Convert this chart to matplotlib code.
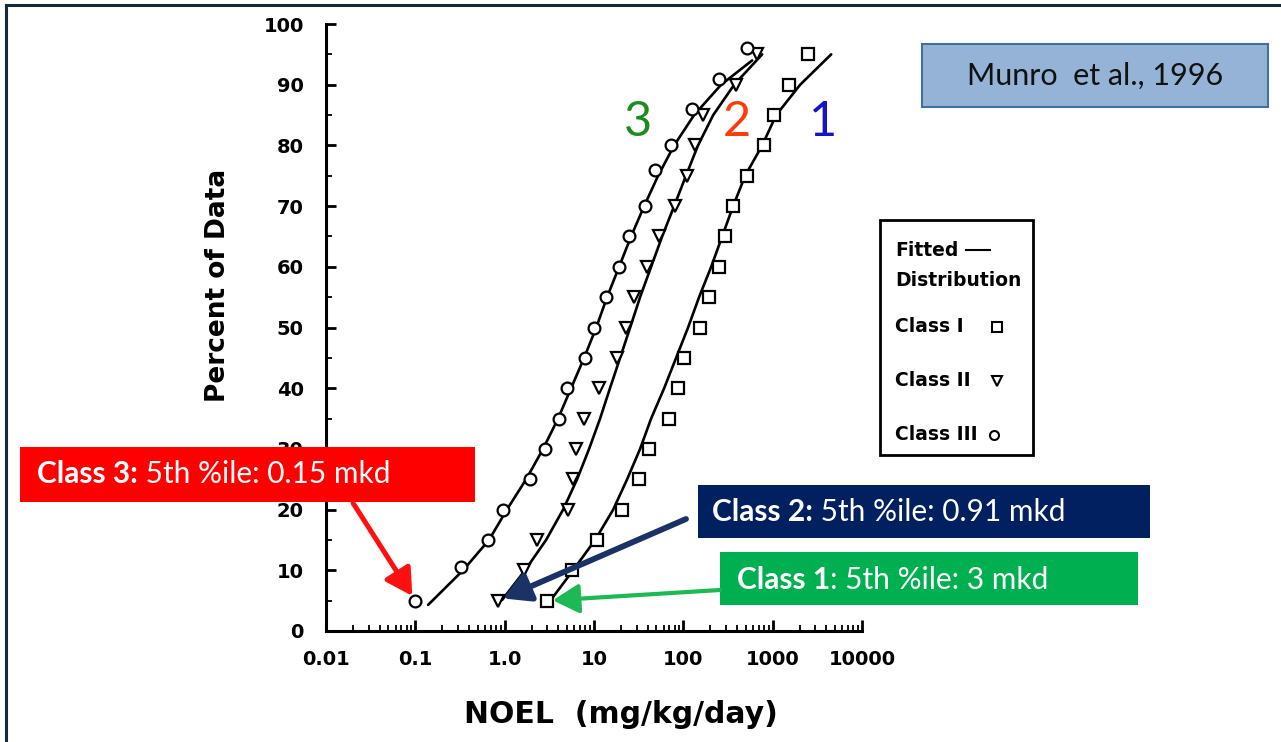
import numpy as np
import matplotlib
matplotlib.use("Agg")
import matplotlib.pyplot as plt
from matplotlib.patches import Rectangle
from matplotlib.ticker import FixedLocator, FixedFormatter, MultipleLocator, LogLocator, NullFormatter

plt.rcParams['font.family'] = ['DejaVu Sans']

# --- datos (NOEL mg/kg/dia, percentil) ---
class1_x = [3.0, 5.7, 10.7, 20.5, 32, 41, 69, 87, 102, 155, 192, 252, 296, 363, 518, 790, 1040, 1520, 2500]
class1_y = [5, 10, 15, 20, 25, 30, 35, 40, 45, 50, 55, 60, 65, 70, 75, 80, 85, 90, 95]
class2_x = [0.84, 1.65, 2.3, 5.1, 5.8, 6.3, 7.8, 11.4, 18, 23, 28, 39, 54, 81, 110, 135, 166, 390, 670]
class2_y = [5, 10, 15, 20, 25, 30, 35, 40, 45, 50, 55, 60, 65, 70, 75, 80, 85, 90, 95]
class3_x = [0.1, 0.325, 0.65, 0.96, 1.92, 2.8, 4.1, 5.0, 7.9, 10, 13.6, 19, 24.5, 37, 48, 73, 125, 252, 516]
class3_y = [5, 10.5, 15, 20, 25, 30, 35, 40, 45, 50, 55, 60, 65, 70, 76, 80, 86, 91, 96]

# curvas ajustadas (puntos leidos sobre las lineas)
fit1_x = [3.40, 5.83, 10.3, 16.4, 23.5, 32.8, 43.6, 61.0, 83.0, 113, 150, 205, 272, 361, 492, 763, 1095, 2032, 4520]
fit1_y = [5.4, 10, 15, 20, 25, 30, 35, 40, 45, 50, 55, 60, 65, 70, 75, 80, 85, 90, 95]
fit2_x = [0.935, 1.69, 2.91, 4.51, 6.47, 8.81, 11.7, 15.1, 19.6, 25.4, 32.8, 43.6, 57.9, 78.9, 107, 146, 216, 371, 763]
fit2_y = [5.1, 10, 15, 20, 25, 30, 35, 40, 45, 50, 55, 60, 65, 70, 75, 80, 85, 90, 95]
fit3_x = [0.139, 0.342, 0.668, 1.06, 1.74, 2.69, 3.96, 5.54, 7.75, 10.6, 14.0, 19.1, 26.0, 36.4, 52.2, 78.9, 132, 265, 589]
fit3_y = [4.3, 10, 15, 20, 25, 30, 35, 40, 45, 50, 55, 60, 65, 70, 75, 80, 85, 90, 94]

x_ticks = [0.01, 0.1, 1, 10, 100, 1000, 10000]
x_labels = ['0.01', '0.1', '1.0', '10', '100', '1000', '10000']

W, H = 1281, 742
fig = plt.figure(figsize=(W / 100, H / 100), dpi=100)
fig.patch.set_facecolor('white')

ax = fig.add_axes([326 / W, 1 - 631 / H, 536 / W, 607 / H])
ax.set_xscale('log')
ax.set_xlim(0.01, 10000)
ax.set_ylim(0, 100)

for fx, fy in [(fit1_x, fit1_y), (fit2_x, fit2_y), (fit3_x, fit3_y)]:
    ax.plot(fx, fy, color='black', lw=1.9, solid_capstyle='round', solid_joinstyle='round')

mk = dict(ls='none', mfc='white', mec='black', mew=1.6, ms=8.5, clip_on=False, zorder=3)
ax.plot(class1_x, class1_y, marker='s', **mk)
ax.plot(class2_x, class2_y, marker='v', **mk)
ax.plot(class3_x, class3_y, marker='o', **mk)

for s in ['top', 'right']:
    ax.spines[s].set_visible(False)
for s in ['left', 'bottom']:
    ax.spines[s].set_linewidth(2.2)

ax.xaxis.set_major_locator(FixedLocator(x_ticks))
ax.xaxis.set_major_formatter(FixedFormatter(x_labels))
ax.xaxis.set_minor_locator(LogLocator(base=10, subs=np.arange(2, 10)))
ax.xaxis.set_minor_formatter(NullFormatter())
ax.yaxis.set_major_locator(MultipleLocator(10))
ax.yaxis.set_minor_locator(MultipleLocator(5))

ax.tick_params(axis='x', which='major', direction='in', length=8, width=2, labelsize=14, pad=14)
ax.tick_params(axis='x', which='minor', direction='in', length=4, width=1.3)
ax.tick_params(axis='y', which='major', direction='in', length=7, width=2, labelsize=14, pad=16)
ax.tick_params(axis='y', which='minor', direction='in', length=4, width=1.3)
for lab in ax.get_xticklabels() + ax.get_yticklabels():
    lab.set_fontweight('bold')

ax.set_ylabel('Percent of Data', fontsize=19, fontweight='bold', va='center')
ax.yaxis.set_label_coords(-0.2015, 0.57)
ax.set_xlabel('NOEL  (mg/kg/day)', fontsize=21.5, fontweight='bold', va='center')
ax.xaxis.set_label_coords(0.55, -0.138)

# capa superior en coordenadas de pixel
ov = fig.add_axes([0, 0, 1, 1], zorder=5)
ov.set_xlim(0, W)
ov.set_ylim(H, 0)
ov.axis('off')

# marco de la diapositiva
ov.plot([6, 6], [H, 5], color='#17283a', lw=2.2)
ov.plot([6, W], [5, 5], color='#17283a', lw=2.2)

# numeros de clase
ov.text(638, 122, '3', color='#1f8a1f', fontsize=35, family='Lato', ha='center', va='center')
ov.text(737, 122, '2', color='#ff3b0a', fontsize=35, family='Lato', ha='center', va='center')
ov.text(823, 122, '1', color='#1515c8', fontsize=35, family='Lato', ha='center', va='center')

# caja de referencia
ov.add_patch(Rectangle((922, 44), 346, 63, fc='#95b3d7', ec='#41709c', lw=1.5))
ov.text(1095, 76, 'Munro  et al., 1996', fontsize=22, family='Lato', ha='center', va='center', color='#111111')

# leyenda
ov.add_patch(Rectangle((880, 220), 153, 235, fc='white', ec='black', lw=2))
leg_font = dict(fontsize=13.5, fontweight='bold', ha='left', va='center', color='black')
ov.text(895, 250, 'Fitted', **leg_font)
ov.plot([966, 990], [250, 250], color='black', lw=1.5)
ov.text(895, 281, 'Distribution', **leg_font)
ov.text(895, 327, 'Class I', **leg_font)
ov.text(895, 381, 'Class II', **leg_font)
ov.text(895, 435, 'Class III', **leg_font)
leg_mk = dict(ls='none', mfc='white', mec='black', mew=1.5, ms=6.5)
ov.plot([997], [327], marker='s', **leg_mk)
ov.plot([997], [381], marker='v', **leg_mk)
ov.plot([994], [435], marker='o', **leg_mk)

# cajas de percentil 5
boxes = [
    ((20, 447, 455, 55), '#ff0000', 'Class 3:', ' 5th %ile: 0.15 mkd', 37, 474),
    ((698, 485, 452, 53), '#002060', 'Class 2:', ' 5th %ile: 0.91 mkd', 712, 512),
    ((720, 552, 418, 53), '#00b050', 'Class 1', ': 5th %ile: 3 mkd', 737, 580),
]
for (bx, by, bw, bh), col, bold_txt, reg_txt, tx, ty in boxes:
    ov.add_patch(Rectangle((bx, by), bw, bh, fc=col, ec='none'))
    t1 = ov.text(tx, ty, bold_txt, fontsize=21.5, family='Lato', fontweight='bold',
                 color='white', ha='left', va='center')
    ov.annotate(reg_txt, xy=(1, 0), xycoords=t1, fontsize=21.5, family='Lato',
                color='white', ha='left', va='bottom')

# flechas hacia el percentil 5
arrows = [
    ((353, 503), (class3_x[0], class3_y[0]), '#ff1010', 3.6),
    ((686, 519), (class2_x[0], class2_y[0]), '#1b3266', 4.2),
    ((720, 590), (class1_x[0], class1_y[0]), '#1db954', 3.0),
]
for start, tip, col, lw in arrows:
    ov.annotate('', xy=tip, xycoords=ax.transData, xytext=start, textcoords='data',
                arrowprops=dict(arrowstyle='-|>,head_length=0.8,head_width=0.45',
                                color=col, lw=lw, mutation_scale=20,
                                shrinkA=0, shrinkB=4),
                annotation_clip=False)

fig.savefig('out.png', dpi=100)
